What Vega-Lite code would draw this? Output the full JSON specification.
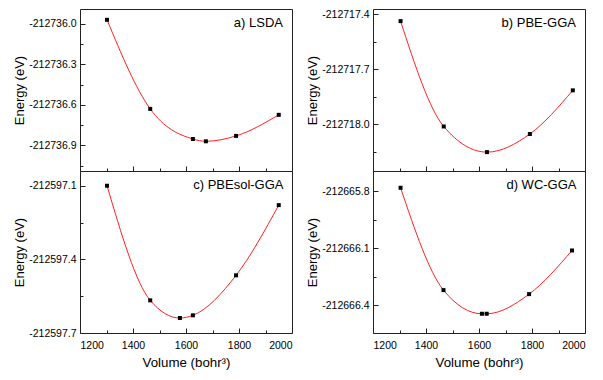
{
  "$schema": "https://vega.github.io/schema/vega-lite/v6.json",
  "background": "white",
  "padding": {"left": 13, "top": 8, "right": 16, "bottom": 5},
  "config": {
    "font": "Liberation Sans",
    "view": {"stroke": "#222222", "strokeWidth": 1},
    "title": {"fontSize": 13, "fontWeight": "normal", "color": "black", "anchor": "end", "font": "Liberation Sans"},
    "axis": {
      "domain": false,
      "grid": false,
      "tickColor": "#222222",
      "labelColor": "black",
      "labelFontSize": 10.5,
      "titleFontSize": 13,
      "titleFontWeight": "normal",
      "titleColor": "black",
      "labelFont": "Liberation Sans",
      "titleFont": "Liberation Sans"
    }
  },
  "datasets": {
    "a": [
      {"V": 1302, "E": -212735.97},
      {"V": 1465, "E": -212736.63},
      {"V": 1626, "E": -212736.853},
      {"V": 1675, "E": -212736.87},
      {"V": 1789, "E": -212736.83},
      {"V": 1950, "E": -212736.674}
    ],
    "b": [
      {"V": 1304, "E": -212717.437},
      {"V": 1467, "E": -212718.012},
      {"V": 1630, "E": -212718.152},
      {"V": 1792, "E": -212718.053},
      {"V": 1954, "E": -212717.815}
    ],
    "c": [
      {"V": 1302, "E": -212597.1},
      {"V": 1465, "E": -212597.567},
      {"V": 1577, "E": -212597.639},
      {"V": 1626, "E": -212597.628},
      {"V": 1789, "E": -212597.465},
      {"V": 1950, "E": -212597.179}
    ],
    "d": [
      {"V": 1304, "E": -212665.783},
      {"V": 1466, "E": -212666.32},
      {"V": 1611, "E": -212666.444},
      {"V": 1629, "E": -212666.444},
      {"V": 1789, "E": -212666.341},
      {"V": 1951, "E": -212666.112}
    ]
  },
  "columns": 2,
  "spacing": {"row": 0, "column": 81},
  "bounds": "flush",
  "concat": [
    {
      "width": 212, "height": 162,
      "title": {"text": "a) LSDA", "offset": -21, "dx": -9},
      "data": {"name": "a"},
      "encoding": {
        "x": {"field": "V", "type": "quantitative",
          "scale": {"domain": [1200, 2000], "nice": false, "zero": false},
          "axis": {"values": [1300, 1400, 1500, 1600, 1700, 1800, 1900], "labels": false, "title": null,
            "tickSize": {"condition": {"test": "datum.value % 200 === 0", "value": -5}, "value": -3}}},
        "y": {"field": "E", "type": "quantitative",
          "scale": {"domain": [-212737.09, -212735.89], "nice": false, "zero": false},
          "axis": {"title": "Energy (eV)", "titlePadding": 2, "labelPadding": 9,
            "values": [-212737.05, -212736.9, -212736.75, -212736.6, -212736.45, -212736.3, -212736.15, -212736.0],
            "labelExpr": "abs(round(datum.value*100) % 30) == 0 ? '-' + format(-datum.value, '.1f') : ''",
            "tickSize": {"condition": {"test": "abs(round(datum.value*100) % 30) == 0", "value": -5}, "value": -3}}}
      },
      "layer": [
        {"mark": {"type": "line", "color": "#ff2020", "strokeWidth": 1, "interpolate": "monotone"}},
        {"mark": {"type": "point", "shape": "square", "filled": true, "color": "black", "size": 16, "opacity": 1}}
      ]
    },
    {
      "width": 212, "height": 162,
      "title": {"text": "b) PBE-GGA", "offset": -21, "dx": -9},
      "data": {"name": "b"},
      "encoding": {
        "x": {"field": "V", "type": "quantitative",
          "scale": {"domain": [1200, 2000], "nice": false, "zero": false},
          "axis": {"values": [1300, 1400, 1500, 1600, 1700, 1800, 1900], "labels": false, "title": null,
            "tickSize": {"condition": {"test": "datum.value % 200 === 0", "value": -5}, "value": -3}}},
        "y": {"field": "E", "type": "quantitative",
          "scale": {"domain": [-212718.255, -212717.371], "nice": false, "zero": false},
          "axis": {"title": "Energy (eV)", "titlePadding": 2, "labelPadding": 9,
            "values": [-212718.15, -212718.0, -212717.85, -212717.7, -212717.55, -212717.4],
            "labelExpr": "abs(round(datum.value*100) % 30) == 0 ? '-' + format(-datum.value, '.1f') : ''",
            "tickSize": {"condition": {"test": "abs(round(datum.value*100) % 30) == 0", "value": -5}, "value": -3}}}
      },
      "layer": [
        {"mark": {"type": "line", "color": "#ff2020", "strokeWidth": 1, "interpolate": "monotone"}},
        {"mark": {"type": "point", "shape": "square", "filled": true, "color": "black", "size": 16, "opacity": 1}}
      ]
    },
    {
      "width": 212, "height": 162,
      "title": {"text": "c) PBEsol-GGA", "offset": -21, "dx": -9},
      "data": {"name": "c"},
      "encoding": {
        "x": {"field": "V", "type": "quantitative",
          "scale": {"domain": [1200, 2000], "nice": false, "zero": false},
          "axis": {"values": [1200, 1300, 1400, 1500, 1600, 1700, 1800, 1900, 2000], "title": "Volume (bohr³)",
            "labelExpr": "datum.value % 200 === 0 ? format(datum.value, 'd') : ''",
            "labelPadding": 12, "titlePadding": 5, "titleFontSize": 13.3,
            "tickSize": {"condition": {"test": "datum.value % 200 === 0", "value": -5}, "value": -3}}},
        "y": {"field": "E", "type": "quantitative",
          "scale": {"domain": [-212597.7, -212597.04], "nice": false, "zero": false},
          "axis": {"title": "Energy (eV)", "titlePadding": 2, "labelPadding": 9,
            "values": [-212597.7, -212597.55, -212597.4, -212597.25, -212597.1],
            "labelExpr": "abs(round(datum.value*100) % 30) == 0 ? '-' + format(-datum.value, '.1f') : ''",
            "tickSize": {"condition": {"test": "abs(round(datum.value*100) % 30) == 0", "value": -5}, "value": -3}}}
      },
      "layer": [
        {"mark": {"type": "line", "color": "#ff2020", "strokeWidth": 1, "interpolate": "monotone"}},
        {"mark": {"type": "point", "shape": "square", "filled": true, "color": "black", "size": 16, "opacity": 1}}
      ]
    },
    {
      "width": 212, "height": 162,
      "title": {"text": "d) WC-GGA", "offset": -21, "dx": -9},
      "data": {"name": "d"},
      "encoding": {
        "x": {"field": "V", "type": "quantitative",
          "scale": {"domain": [1200, 2000], "nice": false, "zero": false},
          "axis": {"values": [1200, 1300, 1400, 1500, 1600, 1700, 1800, 1900, 2000], "title": "Volume (bohr³)",
            "labelExpr": "datum.value % 200 === 0 ? format(datum.value, 'd') : ''",
            "labelPadding": 12, "titlePadding": 5, "titleFontSize": 13.3,
            "tickSize": {"condition": {"test": "datum.value % 200 === 0", "value": -5}, "value": -3}}},
        "y": {"field": "E", "type": "quantitative",
          "scale": {"domain": [-212666.545, -212665.695], "nice": false, "zero": false},
          "axis": {"title": "Energy (eV)", "titlePadding": 2, "labelPadding": 9,
            "values": [-212666.4, -212666.25, -212666.1, -212665.95, -212665.8],
            "labelExpr": "abs(round(datum.value*100) % 30) == 0 ? '-' + format(-datum.value, '.1f') : ''",
            "tickSize": {"condition": {"test": "abs(round(datum.value*100) % 30) == 0", "value": -5}, "value": -3}}}
      },
      "layer": [
        {"mark": {"type": "line", "color": "#ff2020", "strokeWidth": 1, "interpolate": "monotone"}},
        {"mark": {"type": "point", "shape": "square", "filled": true, "color": "black", "size": 16, "opacity": 1}}
      ]
    }
  ]
}
